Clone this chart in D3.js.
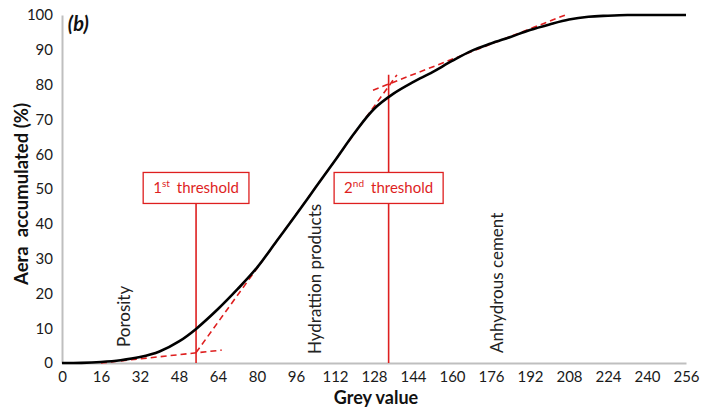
<!DOCTYPE html>
<html><head><meta charset="utf-8">
<script src="https://cdn.jsdelivr.net/npm/d3@7"></script>
<style>
body{margin:0;background:#fff}
text{font-family:Lato,"Open Sans",sans-serif}
</style>
</head><body>
<svg id="chart" width="712" height="408"></svg>
<script>
// ---- data ----
const greyValues = [0,8,16,24,32,40,48,55,64,72,80,88,96,104,112,120,128,136,144,152,160,168,176,184,192,200,208,216,224,232,240,248,256];
const areaAccumulated = [0,0.05,0.3,0.8,1.7,3.3,6.2,9.8,15.5,21.2,27.4,35,42.6,50.4,58.2,66.1,73.0,77.4,80.7,83.6,86.8,89.7,91.8,93.7,95.7,97.3,98.7,99.5,99.8,100,100,100,100];
const xTicks = [0,16,32,48,64,80,96,112,128,144,160,176,192,208,224,240,256];
const yTicks = [0,10,20,30,40,50,60,70,80,90,100];
// tangent (dashed) lines: start/end points in data units
const tangentX1 = [16, 55, 127.6];
const tangentY1 = [0, 3.0, 78.4];
const tangentX2 = [65.5, 137.4, 207.6];
const tangentY2 = [3.7, 82.8, 100.3];
// thresholds
const thresholdValues = [55, 134];
const thresholdTops = [50, 82.8];
const thresholdNumbers = ["1", "2"];
const thresholdSuffixes = ["st", "nd"];
// phase labels
const phaseLabels = ["Porosity", "Hydrattion products", "Anhydrous cement"];
const phaseX = [27.9, 106.3, 180.9];

// ---- layout ----
const svg = d3.select("#chart");
const m = {left: 62, right: 26, top: 15, bottom: 45};
const W = 712, H = 408;
const x = d3.scaleLinear().domain([0,256]).range([m.left, W - m.right]);
const y = d3.scaleLinear().domain([0,100]).range([H - m.bottom, m.top]);
const red = "#de1f1f";
const grey = "#bfbfbf";
const phaseOffsets = [16, 9, 10];

// axes
const xAxis = svg.append("g").attr("transform", `translate(0,${y(0)})`)
  .call(d3.axisBottom(x).tickValues(xTicks).tickSize(0).tickPadding(8).tickFormat(d3.format("d")));
const yAxis = svg.append("g").attr("transform", `translate(${x(0)},0)`)
  .call(d3.axisLeft(y).tickValues(yTicks).tickSize(0).tickPadding(9).tickFormat(d3.format("d")));
[xAxis, yAxis].forEach(a => {
  a.select(".domain").attr("stroke", grey).attr("stroke-width", 2);
  a.selectAll("text").attr("font-family", "Lato, sans-serif").attr("font-size", 15).attr("fill", "#1a1a1a");
});

// axis titles
svg.append("text").attr("x", (x(0) + x(256)) / 2 + 2).attr("y", 404)
  .attr("text-anchor", "middle").attr("font-weight", "bold").attr("font-size", 18).attr("fill", "#111")
  .text("Grey value");
svg.append("text").attr("transform", `translate(28,${(y(0) + y(100)) / 2 + 5}) rotate(-90)`)
  .attr("text-anchor", "middle").attr("font-weight", "bold").attr("font-size", 18.5).attr("fill", "#111")
  .attr("xml:space", "preserve")
  .text("Aera  accumulated (%)");
svg.append("text").attr("x", x(2.4)).attr("y", y(95.5))
  .attr("font-weight", "bold").attr("font-style", "italic").attr("font-size", 20).attr("fill", "#111")
  .text("(b)");

// threshold vertical lines
svg.selectAll("line.thr").data(thresholdValues).join("line").attr("class", "thr")
  .attr("x1", d => x(d)).attr("x2", d => x(d))
  .attr("y1", y(0)).attr("y2", (d, i) => y(thresholdTops[i]))
  .attr("stroke", red).attr("stroke-width", 1.6);

// tangent dashed lines
svg.selectAll("line.tan").data(tangentX1).join("line").attr("class", "tan")
  .attr("x1", (d, i) => x(tangentX1[i])).attr("y1", (d, i) => y(tangentY1[i]))
  .attr("x2", (d, i) => x(tangentX2[i])).attr("y2", (d, i) => y(tangentY2[i]))
  .attr("stroke", red).attr("stroke-width", 1.6).attr("stroke-dasharray", "6,4");

// curve
const line = d3.line().x((d, i) => x(greyValues[i])).y(d => y(d)).curve(d3.curveCatmullRom.alpha(0.5));
svg.append("path").datum(areaAccumulated).attr("d", line)
  .attr("fill", "none").attr("stroke", "#000").attr("stroke-width", 2.6);

// phase labels
phaseLabels.forEach((t, i) => {
  svg.append("text").attr("transform", `translate(${x(phaseX[i])},${y(0) - phaseOffsets[i]}) rotate(-90)`)
    .attr("font-size", 17).attr("fill", "#222").text(t);
});

// threshold boxes
thresholdValues.forEach((v, i) => {
  const g = svg.append("g");
  const cx = x(v), cy = y(50.3);
  const rect = g.append("rect").attr("fill", "#fff").attr("stroke", red).attr("stroke-width", 1.3);
  const tx = g.append("text").attr("x", cx).attr("y", cy + 5).attr("text-anchor", "middle")
    .attr("font-size", 15).attr("fill", red);
  tx.append("tspan").text(thresholdNumbers[i]);
  tx.append("tspan").attr("font-size", 10).attr("dy", -6).text(thresholdSuffixes[i]);
  tx.append("tspan").attr("dy", 6).attr("dx", 7).text("threshold");
  const bb = tx.node().getBBox();
  const pad = 10, h = 31;
  rect.attr("x", bb.x - pad).attr("y", cy - h / 2).attr("width", bb.width + 2 * pad).attr("height", h);
});
</script>
</body></html>
